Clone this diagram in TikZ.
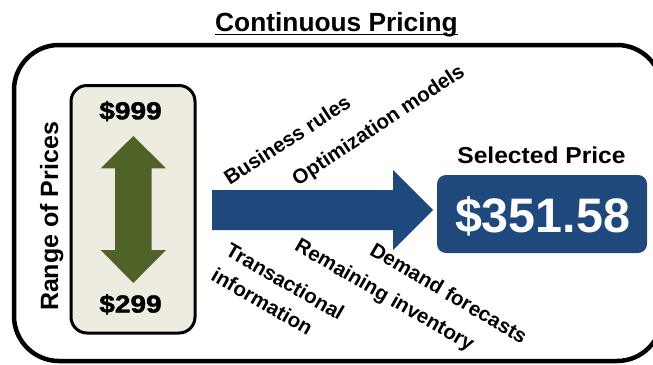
\documentclass[tikz,border=0pt]{standalone}
\usepackage{fontspec}
\setmainfont{Liberation Sans}
\newfontfamily\heavyfont[BoldFeatures={FakeBold=1.6}]{Liberation Sans}
\definecolor{navy}{HTML}{1F497D}
\definecolor{olive}{HTML}{4F6228}
\definecolor{tan}{HTML}{EEECE1}
\begin{document}
\begin{tikzpicture}[x=1pt,y=-1pt,
  factor/.style={inner sep=0pt,font=\fontsize{20.5}{29}\selectfont\bfseries},
  heading/.style={inner sep=0pt,anchor=base},
  bound/.style={heading,font=\fontsize{24.6}{28}\selectfont\heavyfont\bfseries}]
\useasboundingbox (0,0) rectangle (653,364);

% outer frame (runs past the right edge)
\draw[line width=4.5pt,rounded corners=45pt] (14,45) rectangle (662,361);

% title
\node[heading] (title) at (336.5,31)
  {\fontsize{26.3}{30}\selectfont\bfseries Continuous Pricing};
\draw[line width=1.6pt] (215,34.5) -- (458,34.5);

% range of prices box
\draw[line width=3pt,fill=tan,rounded corners=16pt] (71,85.5) rectangle (195,333);
\node[bound] (hi) at (130.5,119.3) {\scalebox{1.14}[1]{\$999}};
\node[bound] (lo) at (130.5,312.5) {\scalebox{1.14}[1]{\$299}};
\fill[olive] (133.3,136) -- (166,168.3) -- (151.7,168.3) -- (151.7,250)
  -- (166,250) -- (133.3,283) -- (100.7,250) -- (115,250) -- (115,168.3)
  -- (100.7,168.3) -- cycle;
\node[heading,rotate=90] (range) at (58,216.5)
  {\fontsize{25}{30}\selectfont\bfseries Range of Prices};

% main arrow
\fill[navy] (212,190) -- (393,190) -- (393,170) -- (433,210) -- (393,250)
  -- (393,230) -- (212,230) -- cycle;

% selected price
\node[heading] (sellabel) at (541.5,163)
  {\scalebox{1.07}[1]{\fontsize{23}{28}\selectfont\bfseries Selected Price}};
\fill[navy,rounded corners=9pt] (437,175) rectangle (647,253);
\node[heading,text=white] (price) at (542.5,232)
  {\fontsize{48.4}{56}\selectfont\bfseries \$351.58};

% inputs along the arrow
\node[factor,rotate=33] (rules) at (287,140) {Business rules};
\node[factor,rotate=33.5] (models) at (379,126) {Optimization models};
\node[factor,rotate=-30,align=left] (trans) at (278,294) {Transactional\\information};
\node[factor,rotate=-30] (inv) at (384,296) {Remaining inventory};
\node[factor,rotate=-30.5] (demand) at (449,293) {Demand forecasts};
\end{tikzpicture}
\end{document}
